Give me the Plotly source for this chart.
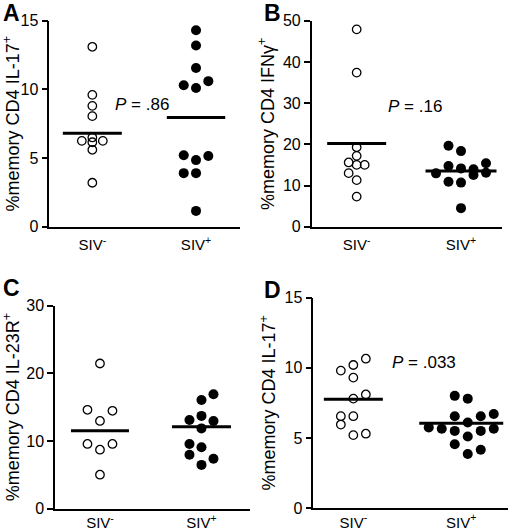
import plotly.graph_objects as go

# ---------------- data ----------------
groups = ["SIV<sup>-</sup>", "SIV<sup>+</sup>"]

# Panel A: %memory CD4 IL-17+
a_neg = [13.1, 9.6, 8.8, 8.05, 6.5, 6.25, 6.15, 6.25, 5.6, 3.2]
a_neg_slot = [0, 0, 0, 0, 0, -1, 0, 1, 0, 0]
a_pos = [14.3, 13.2, 11.55, 10.6, 10.3, 10.1, 5.2, 4.85, 5.15, 3.9, 3.9, 1.15]
a_pos_slot = [0, 0, 0, 1, -1, 0, -1, 0, 1, -1, 0, 0]
a_lines = [6.8, 7.95]
a_p = "<i>P</i> = .86"

# Panel B: %memory CD4 IFNγ+
b_neg = [47.9, 37.4, 19.3, 17.2, 15.6, 15.0, 15.0, 13.0, 11.3, 7.3]
b_neg_slot = [0, 0, 0, 0, -1, 0, 1, -1, 0, 0]
b_pos = [19.65, 18.35, 15.4, 14.75, 14.15, 13.95, 13.1, 12.95, 12.55, 10.9, 10.7, 4.5]
b_pos_slot = [-1, 0, 2, -1, 0, 1, 2, -2, 1, -1, 0, 0]
b_lines = [20.2, 13.5]
b_p = "<i>P</i> = .16"

# Panel C: %memory CD4 IL-23R+
c_neg = [21.45, 14.6, 14.45, 12.95, 9.55, 9.55, 8.7, 5.0]
c_neg_slot = [0, -1, 1, 0, -1, 1, 0, 0]
c_pos = [16.9, 16.05, 13.7, 13.1, 12.95, 11.85, 9.55, 9.05, 7.95, 7.35, 6.45]
c_pos_slot = [1, 0, 0, -1, 1, 0, -1, 0, -1, 1, 0]
c_lines = [11.5, 12.1]

# Panel D: %memory CD4 IL-17+
d_neg = [10.65, 10.2, 9.8, 9.3, 8.1, 7.8, 6.55, 6.55, 5.95, 5.2, 5.3]
d_neg_slot = [1, 0, -1, 0, 1, 0, -1, 0, -1, 0, 1]
d_pos = [8.0, 7.8, 6.55, 6.55, 6.7, 6.1, 5.75, 5.65, 5.65, 5.5, 5.5, 5.1, 4.55, 3.85, 4.15]
d_pos_slot = [-0.5, 0.5, -0.5, 1.5, 2.5, 0.5, -2.5, -1.5, 2.5, -0.5, 1.5, 0.5, -0.5, 0.5, 1.5]
d_lines = [7.75, 6.05]
d_p = "<i>P</i> = .033"

y_titles = {
    "A": "%memory CD4 IL-17<sup>+</sup>",
    "B": "%memory CD4 IFNγ<sup>+</sup>",
    "C": "%memory CD4 IL-23R<sup>+</sup>",
    "D": "%memory CD4 IL-17<sup>+</sup>",
}
y_max = {"A": 15, "B": 50, "C": 30, "D": 15}
y_step = {"A": 5, "B": 10, "C": 10, "D": 5}

# ---------------- layout / style ----------------
W, H = 520, 530
FONT = "Liberation Sans, Arial, Helvetica, sans-serif"
# page-pixel geometry of each plot area and x range
geom = {
    "A": dict(x0=49.3, x1=240.0, y0=20.7, y1=226.7, xr=[0.585, 2.424], so=4),
    "B": dict(x0=311.7, x1=502.0, y0=20.7, y1=226.7, xr=[0.569, 2.393], so=4),
    "C": dict(x0=55.0, x1=250.0, y0=305.7, y1=508.5, xr=[0.557, 2.478], so=0),
    "D": dict(x0=313.3, x1=508.3, y0=297.7, y1=508.0, xr=[0.629, 2.436], so=0),
}
spacing_px = {"A": (10.5, 12.3), "B": (8.0, 12.5), "C": (12.5, 12.0), "D": (12.5, 13.0)}
line_half_px = {"A": (29.5, 29.2), "B": (29.5, 35.5), "C": (29.0, 29.5), "D": (29.5, 42.0)}
p_pos = {"A": (1.476, 8.93), "B": (1.559, 29.2), "D": (1.655, 10.37)}
letter_pos = {"A": (1, 13), "B": (262, 13), "C": (1, 288), "D": (262, 289.5)}

panels = {
    "A": (a_neg, a_neg_slot, a_pos, a_pos_slot, a_lines, a_p),
    "B": (b_neg, b_neg_slot, b_pos, b_pos_slot, b_lines, b_p),
    "C": (c_neg, c_neg_slot, c_pos, c_pos_slot, c_lines, None),
    "D": (d_neg, d_neg_slot, d_pos, d_pos_slot, d_lines, d_p),
}

fig = go.Figure()
layout = dict(
    width=W, height=H, margin=dict(l=0, r=0, t=0, b=0, autoexpand=False),
    paper_bgcolor="white", plot_bgcolor="white", showlegend=False,
    font=dict(family=FONT, color="black", size=15),
)
annotations = []

for i, key in enumerate(["A", "B", "C", "D"]):
    neg, neg_slot, pos, pos_slot, lines, ptxt = panels[key]
    g = geom[key]
    ppu = (g["x1"] - g["x0"]) / (g["xr"][1] - g["xr"][0])
    xa = "x" if i == 0 else f"x{i+1}"
    ya = "y" if i == 0 else f"y{i+1}"
    xname = "xaxis" if i == 0 else f"xaxis{i+1}"
    yname = "yaxis" if i == 0 else f"yaxis{i+1}"

    sp_neg, sp_pos = spacing_px[key]
    fig.add_trace(go.Scatter(
        x=[1 + s * sp_neg / ppu for s in neg_slot], y=neg, mode="markers",
        marker=dict(symbol="circle-open", size=8.5, color="black", line=dict(width=1.3)),
        xaxis=xa, yaxis=ya, cliponaxis=False, hoverinfo="skip"))
    fig.add_trace(go.Scatter(
        x=[2 + s * sp_pos / ppu for s in pos_slot], y=pos, mode="markers",
        marker=dict(symbol="circle", size=10, color="black"),
        xaxis=xa, yaxis=ya, cliponaxis=False, hoverinfo="skip"))
    for cat, val, hw in zip([1, 2], lines, line_half_px[key]):
        fig.add_trace(go.Scatter(
            x=[cat - hw / ppu, cat + hw / ppu], y=[val, val], mode="lines",
            line=dict(color="black", width=3), xaxis=xa, yaxis=ya,
            cliponaxis=False, hoverinfo="skip"))

    layout[xname] = dict(
        domain=[g["x0"] / W, g["x1"] / W], range=g["xr"], anchor=ya,
        tickvals=[1, 2], ticktext=groups, ticks="", showgrid=False, zeroline=False,
        showline=True, linecolor="black", linewidth=1.5, automargin=False,
        tickfont=dict(size=15), ticklabelstandoff=g["so"], fixedrange=True)
    layout[yname] = dict(
        domain=[1 - g["y1"] / H, 1 - g["y0"] / H], range=[0, y_max[key]], anchor=xa,
        tickvals=list(range(0, y_max[key] + 1, y_step[key])),
        ticks="outside", ticklen=6, tickwidth=1.5, tickcolor="black",
        showgrid=False, zeroline=False, showline=True, linecolor="black", linewidth=1.5,
        tickfont=dict(size=16), automargin=False,
        title=dict(text=y_titles[key], font=dict(size=18), standoff=4), fixedrange=True)

    if ptxt:
        px_, py_ = p_pos[key]
        annotations.append(dict(x=px_, y=py_, xref=xa, yref=ya, text=ptxt, showarrow=False,
                                font=dict(size=17), xanchor="center", yanchor="middle"))
    lx, ly = letter_pos[key]
    annotations.append(dict(x=lx / W, y=1 - ly / H, xref="paper", yref="paper",
                            text=f"<b>{key}</b>", showarrow=False,
                            font=dict(size=23), xanchor="left", yanchor="middle"))

layout["annotations"] = annotations
fig.update_layout(**layout)
fig.write_html("out.html", config={"displayModeBar": False},
               post_script="document.body.style.margin='0';document.body.style.overflow='hidden';")
